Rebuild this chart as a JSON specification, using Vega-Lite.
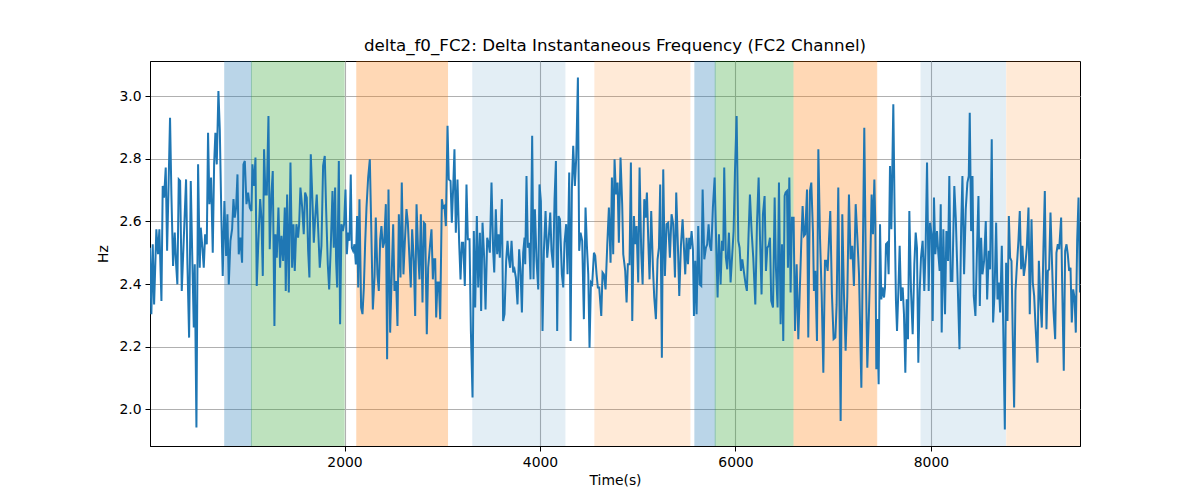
{
  "$schema": "https://vega.github.io/schema/vega-lite/v6.json",
  "autosize": "none",
  "width": 930,
  "height": 385,
  "padding": {"left": 150, "top": 61, "right": 120, "bottom": 55},
  "background": "white",
  "title": {"text": "delta_f0_FC2: Delta Instantaneous Frequency (FC2 Channel)", "font": "DejaVu Sans", "fontSize": 16.7, "fontWeight": "normal", "color": "black", "offset": 6, "anchor": "middle"},
  "config": {
    "view": {"stroke": "black", "strokeWidth": 1},
    "axis": {"domainColor": "black", "tickColor": "black", "labelColor": "black", "titleColor": "black", "labelFont": "DejaVu Sans", "titleFont": "DejaVu Sans", "labelFontSize": 13.9, "titleFontSize": 13.9, "titleFontWeight": "normal", "gridColor": "#b0b0b0", "gridWidth": 1.1, "tickSize": 5, "labelPadding": 4}
  },
  "datasets": {
    "spans": [
      {"start": 775, "end": 1048, "kind": "b"},
      {"start": 1048, "end": 1996, "kind": "g"},
      {"start": 2126, "end": 3054, "kind": "o"},
      {"start": 3313, "end": 4255, "kind": "lb"},
      {"start": 4562, "end": 5534, "kind": "lo"},
      {"start": 5585, "end": 5793, "kind": "b"},
      {"start": 5793, "end": 6589, "kind": "g"},
      {"start": 6599, "end": 7445, "kind": "o"},
      {"start": 7899, "end": 8762, "kind": "lb"},
      {"start": 8776, "end": 9525, "kind": "lo"}
    ],
    "series": [
{"t":10,"v":2.516},{"t":24,"v":2.304},{"t":38,"v":2.527},{"t":52,"v":2.335},{"t":75,"v":2.575},{"t":92,"v":2.495},{"t":106,"v":2.575},{"t":127,"v":2.346},{"t":140,"v":2.713},{"t":154,"v":2.676},
{"t":171,"v":2.772},{"t":185,"v":2.506},{"t":198,"v":2.686},{"t":215,"v":2.931},{"t":229,"v":2.686},{"t":246,"v":2.458},{"t":263,"v":2.564},{"t":277,"v":2.463},{"t":290,"v":2.399},{"t":304,"v":2.734},
{"t":318,"v":2.729},{"t":335,"v":2.378},{"t":352,"v":2.516},{"t":379,"v":2.734},{"t":393,"v":2.463},{"t":410,"v":2.229},{"t":427,"v":2.729},{"t":444,"v":2.463},{"t":458,"v":2.261},{"t":468,"v":2.463},
{"t":485,"v":1.942},{"t":502,"v":2.782},{"t":519,"v":2.452},{"t":529,"v":2.58},{"t":546,"v":2.516},{"t":560,"v":2.452},{"t":574,"v":2.559},{"t":591,"v":2.527},{"t":604,"v":2.883},{"t":618,"v":2.655},
{"t":635,"v":2.74},{"t":652,"v":2.5},{"t":666,"v":2.782},{"t":679,"v":2.883},{"t":693,"v":2.782},{"t":710,"v":3.016},{"t":724,"v":2.894},{"t":741,"v":2.601},{"t":754,"v":2.426},{"t":771,"v":2.665},
{"t":789,"v":2.49},{"t":802,"v":2.623},{"t":816,"v":2.399},{"t":833,"v":2.538},{"t":850,"v":2.575},{"t":864,"v":2.671},{"t":877,"v":2.612},{"t":891,"v":2.644},{"t":905,"v":2.75},{"t":918,"v":2.495},
{"t":935,"v":2.548},{"t":952,"v":2.468},{"t":966,"v":2.782},{"t":980,"v":2.793},{"t":997,"v":2.655},{"t":1014,"v":2.692},{"t":1031,"v":2.644},{"t":1048,"v":2.633},{"t":1058,"v":2.782},{"t":1075,"v":2.713},
{"t":1089,"v":2.804},{"t":1102,"v":2.394},{"t":1119,"v":2.538},{"t":1137,"v":2.671},{"t":1150,"v":2.612},{"t":1164,"v":2.426},{"t":1177,"v":2.83},{"t":1191,"v":2.686},{"t":1205,"v":2.686},{"t":1222,"v":2.936},
{"t":1235,"v":2.511},{"t":1252,"v":2.686},{"t":1266,"v":2.761},{"t":1283,"v":2.266},{"t":1293,"v":2.559},{"t":1307,"v":2.484},{"t":1324,"v":2.644},{"t":1341,"v":2.452},{"t":1355,"v":2.554},{"t":1372,"v":2.474},
{"t":1389,"v":2.644},{"t":1399,"v":2.378},{"t":1413,"v":2.686},{"t":1430,"v":2.373},{"t":1447,"v":2.788},{"t":1464,"v":2.452},{"t":1478,"v":2.591},{"t":1491,"v":2.442},{"t":1508,"v":2.591},{"t":1525,"v":2.548},
{"t":1536,"v":2.591},{"t":1549,"v":2.708},{"t":1566,"v":2.649},{"t":1583,"v":2.559},{"t":1597,"v":2.692},{"t":1614,"v":2.676},{"t":1628,"v":2.506},{"t":1641,"v":2.421},{"t":1655,"v":2.814},{"t":1672,"v":2.665},
{"t":1686,"v":2.532},{"t":1699,"v":2.607},{"t":1716,"v":2.686},{"t":1730,"v":2.58},{"t":1747,"v":2.452},{"t":1764,"v":2.522},{"t":1781,"v":2.777},{"t":1798,"v":2.809},{"t":1812,"v":2.639},{"t":1829,"v":2.463},
{"t":1843,"v":2.383},{"t":1860,"v":2.522},{"t":1877,"v":2.697},{"t":1890,"v":2.516},{"t":1904,"v":2.708},{"t":1914,"v":2.474},{"t":1925,"v":2.389},{"t":1942,"v":2.793},{"t":1955,"v":2.272},{"t":1969,"v":2.591},
{"t":1983,"v":2.569},{"t":1996,"v":2.591},{"t":2010,"v":2.702},{"t":2024,"v":2.495},{"t":2037,"v":2.564},{"t":2051,"v":2.538},{"t":2064,"v":2.75},{"t":2075,"v":2.516},{"t":2088,"v":2.506},{"t":2102,"v":2.527},
{"t":2116,"v":2.463},{"t":2129,"v":2.617},{"t":2140,"v":2.389},{"t":2153,"v":2.671},{"t":2170,"v":2.325},{"t":2184,"v":2.304},{"t":2198,"v":2.389},{"t":2211,"v":2.527},{"t":2225,"v":2.644},{"t":2242,"v":2.74},
{"t":2259,"v":2.798},{"t":2273,"v":2.591},{"t":2290,"v":2.319},{"t":2307,"v":2.421},{"t":2320,"v":2.612},{"t":2337,"v":2.431},{"t":2351,"v":2.378},{"t":2365,"v":2.543},{"t":2378,"v":2.585},{"t":2392,"v":2.516},
{"t":2406,"v":2.532},{"t":2423,"v":2.655},{"t":2436,"v":2.16},{"t":2450,"v":2.702},{"t":2467,"v":2.245},{"t":2484,"v":2.442},{"t":2498,"v":2.591},{"t":2511,"v":2.378},{"t":2528,"v":2.41},{"t":2542,"v":2.266},
{"t":2556,"v":2.623},{"t":2573,"v":2.421},{"t":2586,"v":2.724},{"t":2603,"v":2.431},{"t":2617,"v":2.532},{"t":2634,"v":2.639},{"t":2648,"v":2.596},{"t":2661,"v":2.506},{"t":2678,"v":2.389},{"t":2692,"v":2.575},
{"t":2709,"v":2.474},{"t":2723,"v":2.298},{"t":2737,"v":2.655},{"t":2754,"v":2.495},{"t":2767,"v":2.415},{"t":2781,"v":2.623},{"t":2798,"v":2.341},{"t":2812,"v":2.596},{"t":2825,"v":2.591},{"t":2842,"v":2.24},
{"t":2856,"v":2.452},{"t":2873,"v":2.516},{"t":2890,"v":2.575},{"t":2904,"v":2.415},{"t":2914,"v":2.479},{"t":2928,"v":2.479},{"t":2938,"v":2.293},{"t":2951,"v":2.405},{"t":2965,"v":2.405},{"t":2979,"v":2.288},
{"t":2996,"v":2.671},{"t":3009,"v":2.644},{"t":3023,"v":2.649},{"t":3037,"v":2.585},{"t":3054,"v":2.905},{"t":3067,"v":2.734},{"t":3085,"v":2.729},{"t":3098,"v":2.596},{"t":3112,"v":2.708},{"t":3125,"v":2.83},
{"t":3139,"v":2.564},{"t":3156,"v":2.734},{"t":3173,"v":2.532},{"t":3187,"v":2.415},{"t":3201,"v":2.532},{"t":3214,"v":2.532},{"t":3231,"v":2.394},{"t":3248,"v":2.718},{"t":3262,"v":2.543},{"t":3279,"v":2.543},
{"t":3293,"v":2.25},{"t":3310,"v":2.038},{"t":3323,"v":2.569},{"t":3337,"v":2.325},{"t":3354,"v":2.617},{"t":3368,"v":2.389},{"t":3385,"v":2.564},{"t":3398,"v":2.314},{"t":3412,"v":2.596},{"t":3429,"v":2.484},
{"t":3443,"v":2.319},{"t":3460,"v":2.548},{"t":3473,"v":2.532},{"t":3487,"v":2.5},{"t":3504,"v":2.724},{"t":3521,"v":2.506},{"t":3532,"v":2.437},{"t":3548,"v":2.639},{"t":3562,"v":2.495},{"t":3576,"v":2.559},
{"t":3589,"v":2.484},{"t":3610,"v":2.671},{"t":3623,"v":2.282},{"t":3637,"v":2.304},{"t":3654,"v":2.474},{"t":3668,"v":2.538},{"t":3681,"v":2.484},{"t":3695,"v":2.452},{"t":3709,"v":2.538},{"t":3726,"v":2.437},
{"t":3739,"v":2.447},{"t":3753,"v":2.421},{"t":3770,"v":2.335},{"t":3787,"v":2.511},{"t":3801,"v":2.442},{"t":3815,"v":2.309},{"t":3828,"v":2.5},{"t":3842,"v":2.548},{"t":3849,"v":2.463},{"t":3862,"v":2.745},
{"t":3876,"v":2.516},{"t":3890,"v":2.532},{"t":3903,"v":2.415},{"t":3920,"v":2.873},{"t":3934,"v":2.415},{"t":3948,"v":2.639},{"t":3965,"v":2.474},{"t":3982,"v":2.383},{"t":3995,"v":2.718},{"t":4009,"v":2.665},
{"t":4026,"v":2.25},{"t":4040,"v":2.506},{"t":4057,"v":2.633},{"t":4074,"v":2.484},{"t":4088,"v":2.538},{"t":4105,"v":2.628},{"t":4118,"v":2.506},{"t":4135,"v":2.452},{"t":4149,"v":2.671},{"t":4163,"v":2.793},
{"t":4176,"v":2.25},{"t":4190,"v":2.617},{"t":4204,"v":2.607},{"t":4224,"v":2.431},{"t":4238,"v":2.389},{"t":4251,"v":2.532},{"t":4268,"v":2.591},{"t":4282,"v":2.431},{"t":4299,"v":2.756},{"t":4313,"v":2.218},
{"t":4326,"v":2.702},{"t":4340,"v":2.841},{"t":4357,"v":2.713},{"t":4371,"v":2.804},{"t":4388,"v":3.059},{"t":4401,"v":2.506},{"t":4415,"v":2.564},{"t":4432,"v":2.538},{"t":4449,"v":2.288},{"t":4466,"v":2.644},
{"t":4480,"v":2.522},{"t":4494,"v":2.431},{"t":4507,"v":2.197},{"t":4521,"v":2.405},{"t":4534,"v":2.399},{"t":4552,"v":2.5},{"t":4565,"v":2.49},{"t":4579,"v":2.431},{"t":4592,"v":2.389},{"t":4606,"v":2.389},
{"t":4627,"v":2.298},{"t":4640,"v":2.437},{"t":4654,"v":2.431},{"t":4671,"v":2.383},{"t":4688,"v":2.522},{"t":4705,"v":2.644},{"t":4722,"v":2.468},{"t":4736,"v":2.74},{"t":4749,"v":2.495},{"t":4763,"v":2.798},
{"t":4777,"v":2.686},{"t":4794,"v":2.724},{"t":4807,"v":2.532},{"t":4824,"v":2.804},{"t":4841,"v":2.655},{"t":4852,"v":2.495},{"t":4872,"v":2.442},{"t":4886,"v":2.341},{"t":4899,"v":2.463},{"t":4916,"v":2.463},
{"t":4930,"v":2.788},{"t":4944,"v":2.282},{"t":4961,"v":2.617},{"t":4974,"v":2.527},{"t":4988,"v":2.585},{"t":5005,"v":2.405},{"t":5019,"v":2.772},{"t":5036,"v":2.5},{"t":5050,"v":2.399},{"t":5067,"v":2.671},
{"t":5080,"v":2.612},{"t":5094,"v":2.692},{"t":5108,"v":2.538},{"t":5121,"v":2.415},{"t":5138,"v":2.633},{"t":5155,"v":2.458},{"t":5169,"v":2.357},{"t":5186,"v":2.288},{"t":5203,"v":2.479},{"t":5217,"v":2.516},
{"t":5230,"v":2.718},{"t":5247,"v":2.165},{"t":5261,"v":2.766},{"t":5278,"v":2.426},{"t":5295,"v":2.591},{"t":5312,"v":2.596},{"t":5329,"v":2.484},{"t":5346,"v":2.623},{"t":5363,"v":2.591},{"t":5381,"v":2.421},
{"t":5394,"v":2.692},{"t":5411,"v":2.522},{"t":5425,"v":2.362},{"t":5442,"v":2.522},{"t":5459,"v":2.607},{"t":5473,"v":2.516},{"t":5486,"v":2.431},{"t":5500,"v":2.548},{"t":5514,"v":2.463},{"t":5527,"v":2.548},
{"t":5537,"v":2.511},{"t":5551,"v":2.569},{"t":5565,"v":2.511},{"t":5575,"v":2.298},{"t":5589,"v":2.474},{"t":5602,"v":2.304},{"t":5619,"v":2.585},{"t":5633,"v":2.399},{"t":5650,"v":2.394},{"t":5664,"v":2.702},
{"t":5681,"v":2.479},{"t":5698,"v":2.516},{"t":5711,"v":2.527},{"t":5725,"v":2.591},{"t":5739,"v":2.522},{"t":5752,"v":2.506},{"t":5769,"v":2.644},{"t":5787,"v":2.74},{"t":5804,"v":2.516},{"t":5817,"v":2.357},
{"t":5831,"v":2.559},{"t":5848,"v":2.399},{"t":5862,"v":2.538},{"t":5875,"v":2.506},{"t":5885,"v":2.772},{"t":5902,"v":2.484},{"t":5916,"v":2.447},{"t":5933,"v":2.564},{"t":5950,"v":2.405},{"t":5967,"v":2.495},
{"t":5981,"v":2.569},{"t":5995,"v":2.761},{"t":6012,"v":2.936},{"t":6029,"v":2.538},{"t":6042,"v":2.516},{"t":6056,"v":2.442},{"t":6070,"v":2.479},{"t":6087,"v":2.437},{"t":6104,"v":2.399},{"t":6117,"v":2.378},
{"t":6134,"v":2.559},{"t":6148,"v":2.686},{"t":6165,"v":2.569},{"t":6182,"v":2.484},{"t":6203,"v":2.335},{"t":6220,"v":2.591},{"t":6237,"v":2.74},{"t":6250,"v":2.559},{"t":6267,"v":2.367},{"t":6281,"v":2.623},
{"t":6298,"v":2.681},{"t":6312,"v":2.442},{"t":6326,"v":2.516},{"t":6339,"v":2.522},{"t":6353,"v":2.548},{"t":6366,"v":2.346},{"t":6384,"v":2.325},{"t":6401,"v":2.676},{"t":6414,"v":2.452},{"t":6431,"v":2.325},
{"t":6445,"v":2.724},{"t":6462,"v":2.272},{"t":6476,"v":2.527},{"t":6489,"v":2.218},{"t":6503,"v":2.681},{"t":6513,"v":2.692},{"t":6527,"v":2.697},{"t":6537,"v":2.452},{"t":6551,"v":2.74},{"t":6564,"v":2.373},
{"t":6578,"v":2.612},{"t":6595,"v":2.612},{"t":6609,"v":2.25},{"t":6626,"v":2.463},{"t":6643,"v":2.224},{"t":6660,"v":2.399},{"t":6674,"v":2.538},{"t":6687,"v":2.649},{"t":6701,"v":2.554},{"t":6714,"v":2.559},
{"t":6732,"v":2.702},{"t":6745,"v":2.229},{"t":6762,"v":2.697},{"t":6776,"v":2.724},{"t":6793,"v":2.564},{"t":6803,"v":2.378},{"t":6817,"v":2.442},{"t":6834,"v":2.218},{"t":6848,"v":2.83},{"t":6865,"v":2.548},
{"t":6882,"v":2.367},{"t":6899,"v":2.117},{"t":6916,"v":2.474},{"t":6929,"v":2.474},{"t":6943,"v":2.442},{"t":6957,"v":2.543},{"t":6970,"v":2.633},{"t":6987,"v":2.367},{"t":7004,"v":2.224},{"t":7022,"v":2.229},
{"t":7035,"v":2.335},{"t":7052,"v":2.708},{"t":7076,"v":1.963},{"t":7093,"v":2.623},{"t":7110,"v":2.367},{"t":7127,"v":2.187},{"t":7144,"v":2.357},{"t":7161,"v":2.686},{"t":7178,"v":2.479},{"t":7195,"v":2.522},
{"t":7212,"v":2.394},{"t":7230,"v":2.655},{"t":7247,"v":2.548},{"t":7264,"v":2.431},{"t":7288,"v":2.069},{"t":7305,"v":2.548},{"t":7318,"v":2.899},{"t":7335,"v":2.421},{"t":7349,"v":2.133},{"t":7366,"v":2.314},
{"t":7380,"v":2.474},{"t":7393,"v":2.686},{"t":7407,"v":2.559},{"t":7421,"v":2.734},{"t":7431,"v":2.591},{"t":7441,"v":2.128},{"t":7451,"v":2.288},{"t":7465,"v":2.08},{"t":7479,"v":2.591},{"t":7492,"v":2.351},
{"t":7506,"v":2.389},{"t":7520,"v":2.357},{"t":7530,"v":2.389},{"t":7540,"v":2.527},{"t":7554,"v":2.532},{"t":7567,"v":2.431},{"t":7581,"v":2.777},{"t":7595,"v":2.575},{"t":7615,"v":2.974},{"t":7629,"v":2.612},
{"t":7642,"v":2.346},{"t":7653,"v":2.25},{"t":7666,"v":2.373},{"t":7680,"v":2.522},{"t":7694,"v":2.346},{"t":7711,"v":2.389},{"t":7724,"v":2.304},{"t":7738,"v":2.117},{"t":7752,"v":2.351},{"t":7765,"v":2.224},
{"t":7779,"v":2.633},{"t":7796,"v":2.378},{"t":7813,"v":2.24},{"t":7830,"v":2.463},{"t":7844,"v":2.564},{"t":7857,"v":2.516},{"t":7871,"v":2.149},{"t":7885,"v":2.378},{"t":7898,"v":2.484},{"t":7915,"v":2.538},
{"t":7932,"v":2.378},{"t":7946,"v":2.522},{"t":7960,"v":2.788},{"t":7977,"v":2.378},{"t":7990,"v":2.596},{"t":8007,"v":2.559},{"t":8018,"v":2.282},{"t":8031,"v":2.676},{"t":8045,"v":2.495},{"t":8062,"v":2.569},
{"t":8076,"v":2.495},{"t":8089,"v":2.442},{"t":8100,"v":2.655},{"t":8110,"v":2.245},{"t":8127,"v":2.575},{"t":8144,"v":2.304},{"t":8158,"v":2.569},{"t":8175,"v":2.474},{"t":8188,"v":2.745},{"t":8202,"v":2.41},
{"t":8219,"v":2.41},{"t":8239,"v":2.713},{"t":8254,"v":2.612},{"t":8271,"v":2.431},{"t":8292,"v":2.192},{"t":8309,"v":2.58},{"t":8322,"v":2.745},{"t":8339,"v":2.431},{"t":8356,"v":2.639},{"t":8373,"v":2.724},
{"t":8387,"v":2.745},{"t":8397,"v":2.947},{"t":8411,"v":2.569},{"t":8425,"v":2.745},{"t":8438,"v":2.362},{"t":8455,"v":2.298},{"t":8469,"v":2.484},{"t":8486,"v":2.681},{"t":8500,"v":2.33},{"t":8513,"v":2.548},
{"t":8527,"v":2.431},{"t":8544,"v":2.474},{"t":8561,"v":2.601},{"t":8575,"v":2.351},{"t":8592,"v":2.506},{"t":8605,"v":2.447},{"t":8622,"v":2.862},{"t":8636,"v":2.277},{"t":8650,"v":2.367},{"t":8667,"v":2.596},
{"t":8681,"v":2.351},{"t":8694,"v":2.405},{"t":8708,"v":2.309},{"t":8725,"v":2.522},{"t":8739,"v":2.272},{"t":8756,"v":1.936},{"t":8769,"v":2.468},{"t":8783,"v":2.282},{"t":8797,"v":2.617},{"t":8810,"v":2.484},
{"t":8824,"v":2.474},{"t":8837,"v":2.234},{"t":8851,"v":2.006},{"t":8865,"v":2.378},{"t":8878,"v":2.452},{"t":8895,"v":2.538},{"t":8909,"v":2.633},{"t":8923,"v":2.447},{"t":8936,"v":2.522},{"t":8950,"v":2.426},
{"t":8964,"v":2.458},{"t":8981,"v":2.516},{"t":8998,"v":2.644},{"t":9011,"v":2.304},{"t":9029,"v":2.607},{"t":9042,"v":2.405},{"t":9056,"v":2.362},{"t":9069,"v":2.272},{"t":9090,"v":2.149},{"t":9104,"v":2.474},
{"t":9117,"v":2.367},{"t":9134,"v":2.261},{"t":9151,"v":2.516},{"t":9165,"v":2.697},{"t":9182,"v":2.256},{"t":9196,"v":2.442},{"t":9209,"v":2.447},{"t":9223,"v":2.628},{"t":9237,"v":2.484},{"t":9254,"v":2.314},
{"t":9271,"v":2.224},{"t":9284,"v":2.5},{"t":9298,"v":2.527},{"t":9312,"v":2.511},{"t":9332,"v":2.612},{"t":9342,"v":2.41},{"t":9359,"v":2.123},{"t":9373,"v":2.506},{"t":9387,"v":2.527},{"t":9400,"v":2.495},
{"t":9414,"v":2.442},{"t":9428,"v":2.452},{"t":9441,"v":2.277},{"t":9455,"v":2.383},{"t":9469,"v":2.357},{"t":9482,"v":2.245},{"t":9496,"v":2.538},{"t":9510,"v":2.676},{"t":9525,"v":2.373}
    ]
  },
  "layer": [
    {
      "data": {"name": "spans"},
      "mark": {"type": "rect", "strokeWidth": 1, "clip": true},
      "encoding": {
        "x": {"field": "start", "type": "quantitative"},
        "x2": {"field": "end"},
        "color": {"field": "kind", "type": "nominal", "legend": null, "scale": {"domain": ["b", "g", "o", "lb", "lo"], "range": ["#1f77b4", "#2ca02c", "#ff7f0e", "#1f77b4", "#ff7f0e"]}},
        "stroke": {"field": "kind", "type": "nominal", "legend": null, "scale": {"domain": ["b", "g", "o", "lb", "lo"], "range": ["#1f77b4", "#2ca02c", "#ff7f0e", "#1f77b4", "#ff7f0e"]}},
        "opacity": {"condition": [{"test": "datum.kind === 'lb'", "value": 0.12}, {"test": "datum.kind === 'lo'", "value": 0.16}], "value": 0.3}
      }
    },
    {
      "data": {"name": "series"},
      "mark": {"type": "line", "color": "#1f77b4", "strokeWidth": 2, "clip": true},
      "encoding": {
        "x": {"field": "t", "type": "quantitative", "title": "Time(s)", "scale": {"domain": [10, 9525], "nice": false, "zero": false}, "axis": {"values": [2000, 4000, 6000, 8000], "format": "d", "titlePadding": 5, "grid": true}},
        "y": {"field": "v", "type": "quantitative", "title": "Hz", "scale": {"domain": [1.883, 3.112], "nice": false, "zero": false}, "axis": {"values": [2.0, 2.2, 2.4, 2.6, 2.8, 3.0], "format": ".1f", "titlePadding": 8, "grid": true}}
      }
    }
  ]
}
